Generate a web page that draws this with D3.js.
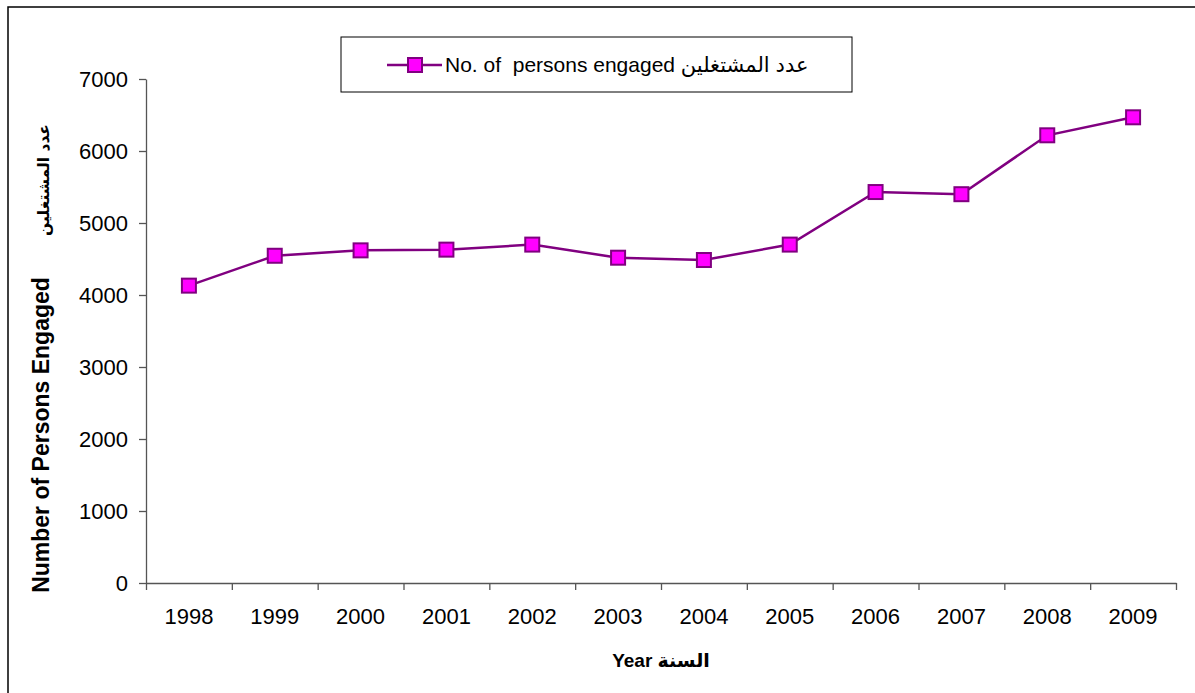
<!DOCTYPE html>
<html>
<head>
<meta charset="utf-8">
<script src="https://cdn.jsdelivr.net/npm/d3@7"></script>
<style>
  body { margin: 0; background: #fff; }
  text { font-family: "Liberation Sans", Arial, "DejaVu Sans", sans-serif; }
</style>
</head>
<body>
<div class="chart"></div>
<script>
// data
var years = [`1998`,`1999`,`2000`,`2001`,`2002`,`2003`,`2004`,`2005`,`2006`,`2007`,`2008`,`2009`];
var persons = [4130, 4545, 4620, 4630, 4700, 4518, 4486, 4700, 5430, 5400, 6218, 6468];
var yTicks = [0, 1000, 2000, 3000, 4000, 5000, 6000, 7000];

var fullWidth = 1195, fullHeight = 693;
var margin = {top: 79, bottom: 110, left: 146, right: 19};
var width = fullWidth - margin.left - margin.right;
var height = fullHeight - margin.top - margin.bottom;
var latin = `"Liberation Sans", Arial, sans-serif`;

var root = d3.select(`.chart`)
    .append(`svg`)
    .attr(`width`, fullWidth)
    .attr(`height`, fullHeight);

// outer frame (runs off the right and bottom edge)
root.append(`rect`)
    .attr(`x`, 8).attr(`y`, 7)
    .attr(`width`, fullWidth).attr(`height`, fullHeight)
    .style(`fill`, `none`).style(`stroke`, `#000`).style(`stroke-width`, 1.5);

var svg = root.append(`g`)
    .attr(`transform`, `translate(${margin.left},${margin.top})`);

var xScale = d3.scaleBand().domain(years).range([0, width]);
var edgeScale = d3.scaleLinear().domain([0, years.length]).range([0, width]);
var yScale = d3.scaleLinear().domain([0, 7000]).range([height, 0]);

// y axis
var yAxis = svg.append(`g`)
    .call(d3.axisLeft(yScale).tickValues(yTicks).tickFormat(d3.format(`d`))
        .tickSize(7).tickPadding(11).tickSizeOuter(0));
yAxis.selectAll(`text`).style(`font-size`, `22px`).style(`fill`, `#000`)
    .style(`font-family`, latin);

// x axis: ticks on category edges, labels in the middle
svg.append(`g`)
    .attr(`transform`, `translate(0, ${height})`)
    .call(d3.axisBottom(edgeScale).ticks(years.length).tickSize(7).tickFormat(``).tickSizeOuter(0));
var xLabels = svg.append(`g`)
    .attr(`transform`, `translate(0, ${height})`)
    .call(d3.axisBottom(xScale).tickSize(0).tickPadding(25));
xLabels.select(`.domain`).remove();
xLabels.selectAll(`text`).style(`font-size`, `22px`).style(`fill`, `#000`)
    .style(`font-family`, latin);

svg.selectAll(`.domain, .tick line`).style(`stroke`, `#555`).style(`stroke-width`, 1.3);

// line and markers
var line = d3.line()
    .x((d, i) => xScale(years[i]) + xScale.bandwidth() / 2)
    .y(d => yScale(d));

svg.append(`path`)
    .datum(persons)
    .attr(`d`, line)
    .style(`fill`, `none`)
    .style(`stroke`, `#800080`)
    .style(`stroke-width`, 2.5);

svg.selectAll(`.marker`)
    .data(persons)
    .enter()
    .append(`rect`)
    .attr(`class`, `marker`)
    .attr(`x`, (d, i) => xScale(years[i]) + xScale.bandwidth() / 2 - 7)
    .attr(`y`, d => yScale(d) - 7)
    .attr(`width`, 14)
    .attr(`height`, 14)
    .style(`fill`, `#ff00ff`)
    .style(`stroke`, `#800080`)
    .style(`stroke-width`, 2);

// axis titles
root.append(`text`)
    .attr(`transform`, `translate(49, 435) rotate(-90)`)
    .attr(`text-anchor`, `middle`)
    .style(`font-size`, `23px`).style(`font-weight`, `bold`)
    .style(`font-family`, latin)
    .text(`Number of Persons Engaged`);
root.append(`text`)
    .attr(`transform`, `translate(49, 180) rotate(-90)`)
    .attr(`text-anchor`, `middle`)
    .style(`font-size`, `15.5px`).style(`font-weight`, `bold`)
    .style(`font-family`, `"DejaVu Sans", sans-serif`)
    .text(`عدد المشتغلين`);
root.append(`text`)
    .attr(`x`, margin.left + width / 2)
    .attr(`y`, 667)
    .attr(`text-anchor`, `middle`)
    .style(`font-size`, `19px`).style(`font-weight`, `bold`)
    .attr(`direction`, `ltr`)
    .text(`Year السنة`);

// legend
var legend = root.append(`g`).attr(`transform`, `translate(341, 37)`);
legend.append(`rect`)
    .attr(`width`, 511).attr(`height`, 55)
    .style(`fill`, `#fff`).style(`stroke`, `#000`).style(`stroke-width`, 1);
legend.append(`line`)
    .attr(`x1`, 46).attr(`x2`, 101).attr(`y1`, 28).attr(`y2`, 28)
    .style(`stroke`, `#800080`).style(`stroke-width`, 2.5);
legend.append(`rect`)
    .attr(`x`, 67).attr(`y`, 21).attr(`width`, 14).attr(`height`, 14)
    .style(`fill`, `#ff00ff`).style(`stroke`, `#800080`).style(`stroke-width`, 2);
legend.append(`text`)
    .attr(`x`, 104).attr(`y`, 35)
    .attr(`direction`, `ltr`)
    .style(`font-size`, `21px`)
    .style(`white-space`, `pre`)
    .text(`No. of  persons engaged عدد المشتغلين`);
</script>
</body>
</html>
